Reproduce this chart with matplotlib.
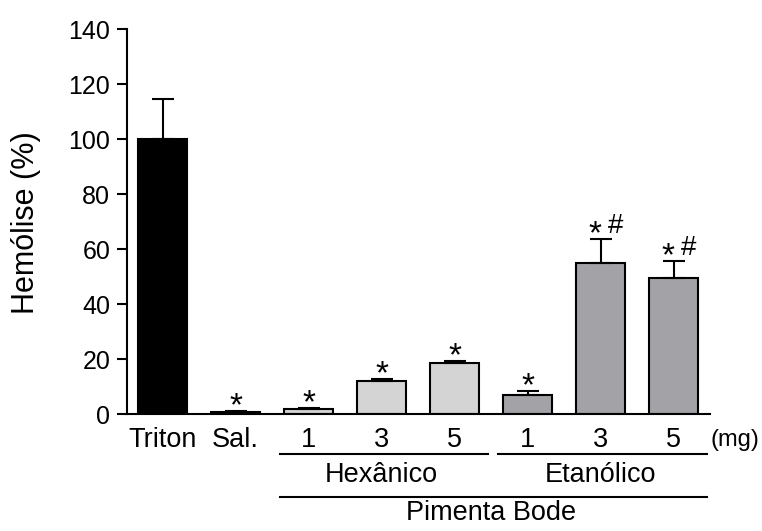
import numpy as np
import matplotlib
matplotlib.use("Agg")
import matplotlib.pyplot as plt
from matplotlib.transforms import blended_transform_factory

plt.rcParams["font.family"] = ["Liberation Sans", "DejaVu Sans"]

# ── data ──────────────────────────────────────────────────────────────────────
labels = ["Triton", "Sal.", "1", "3", "5", "1", "3", "5"]
values = [100.0, 0.7, 1.8, 12.0, 18.6, 6.9, 54.9, 49.5]
errors = [14.5, 0.4, 0.4, 0.8, 0.7, 1.5, 8.7, 6.1]
marks = ["", "*", "*", "*", "*", "*", "*#", "*#"]
colors = ["#000000", "#d4d4d4", "#d4d4d4", "#d4d4d4", "#d4d4d4",
          "#a3a3a7", "#a3a3a7", "#a3a3a7"]
groups = [("Hexânico", 2, 4), ("Etanólico", 5, 7)]
yticks = [0, 20, 40, 60, 80, 100, 120, 140]

FS_TICK = 18
FS_TXT = 19.5
FS_YLAB = 22
x = np.arange(len(values))

fig = plt.figure(figsize=(7.62, 5.31), dpi=100)
ax = fig.add_axes([0.1667, 0.2203, 0.7651, 0.7250])

ax.bar(x, values, width=0.67, color=colors, edgecolor="black", linewidth=1.5,
       yerr=[np.zeros(len(errors)), errors],
       error_kw=dict(ecolor="black", elinewidth=1.5, capsize=8, capthick=1.5),
       zorder=2)

# significance marks above error caps
for xi, v, e, m in zip(x, values, errors, marks):
    if "*" in m:
        ax.annotate("*", (xi, v + e), xytext=(-4 if "#" in m else 0, -3),
                    textcoords="offset points", ha="center", va="baseline",
                    fontsize=24)
    if "#" in m:
        ax.annotate("#", (xi, v + e), xytext=(11, 4.5),
                    textcoords="offset points", ha="center", va="baseline",
                    fontsize=20)

ax.set_xlim(-0.49, 7.5)
ax.set_ylim(0, 140)
ax.set_yticks(yticks)
ax.set_xticks([])
ax.tick_params(axis="y", direction="out", length=7, width=1.5,
               labelsize=FS_TICK, pad=5)
for s in ["top", "right"]:
    ax.spines[s].set_visible(False)
for s in ["left", "bottom"]:
    ax.spines[s].set_linewidth(1.5)

ax.set_ylabel("Hemólise (%)", fontsize=FS_YLAB)
ax.yaxis.set_label_coords(-0.148, 0.496)

# labels under the axis
trans = blended_transform_factory(ax.transData, ax.transAxes)
for xi, lab in zip(x, labels):
    ax.text(xi, -0.068, lab, transform=trans, ha="center", va="center",
            fontsize=FS_TXT)
ax.text(7.51, -0.068, "(mg)", transform=trans, ha="left", va="center",
        fontsize=17)

line_kw = dict(color="black", lw=1.5, transform=trans, clip_on=False)
for name, a, b in groups:
    ax.plot([a - 0.4, b + 0.46], [-0.104, -0.104], **line_kw)
    ax.text((a + b) / 2, -0.158, name, transform=trans, ha="center",
            va="center", fontsize=FS_TXT)
ax.plot([2 - 0.39, 7 + 0.46], [-0.216, -0.216], **line_kw)
ax.text(4.5, -0.256, "Pimenta Bode", transform=trans, ha="center",
        va="center", fontsize=FS_TXT)

fig.savefig("out.png", dpi=100)
